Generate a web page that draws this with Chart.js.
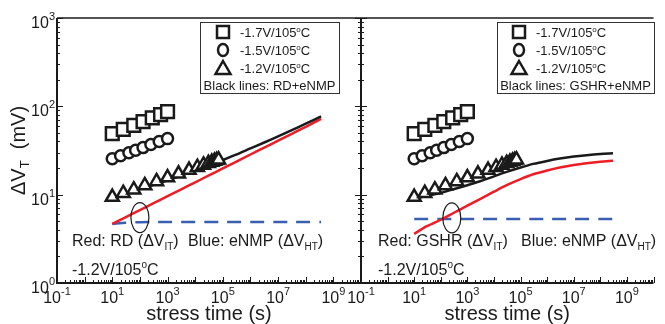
<!DOCTYPE html>
<html>
<head>
<meta charset="utf-8">
<script src="https://cdn.jsdelivr.net/npm/chart.js@4.4.1/dist/chart.umd.min.js"></script>
<style>
html, body { margin: 0; padding: 0; background: #fff; }
#wrap { position: relative; width: 665px; height: 324px; }
#wrap canvas { position: absolute; left: 0; top: 0; }
</style>
</head>
<body>
<div id="wrap">
  <canvas id="left" width="665" height="324"></canvas>
  <canvas id="right" width="665" height="324"></canvas>
</div>
<script>
// measured data (same for both panels)
const sqTime = [10, 25, 60, 130, 280, 560, 1000];          // -1.7V/105C
const sqVal = [49, 54.8, 61, 67, 74, 80.5, 87];
const ciTime = [10, 20, 40, 70, 130, 250, 500, 1000];      // -1.5V/105C
const ciVal = [25.5, 27.6, 29.9, 31.8, 34.1, 36.9, 40, 43.1];
const trTime = [10, 25, 60, 150, 400, 1000, 2500, 6000, 12000, 20000, 30000, 40000, 50000, 60000, 70000]; // -1.2V/105C
const trVal = [9.4, 10.4, 11.4, 12.7, 14.1, 15.6, 17.2, 19.0, 20.5, 21.7, 22.7, 23.4, 24.0, 24.5, 24.9];

// left panel: RD + eNMP model
const rdTime = [10, 30, 100, 300, 1e3, 3e3, 1e4, 3e4, 1e5, 3e5, 1e6, 3e6, 1e7, 3e7, 1e8, 3.6e8];
const rdRed = [4.66, 5.54, 6.69, 7.95, 9.61, 11.4, 13.8, 16.4, 19.8, 23.5, 28.5, 33.8, 40.9, 48.5, 58.7, 72.0];
const rdBlue = [4.66, 4.8, 4.88, 4.9, 4.9, 4.9, 4.9, 4.9, 4.9, 4.9, 4.9, 4.9, 4.9, 4.9, 4.9, 4.9];
const rdBlack = [9.32, 10.34, 11.57, 12.85, 14.51, 16.3, 18.7, 21.3, 24.7, 28.4, 33.4, 38.7, 45.8, 53.4, 63.6, 76.9];

// right panel: GSHR + eNMP model
const gsTime = [10, 30, 100, 300, 1e3, 3e3, 1e4, 3e4, 1e5, 3e5, 1e6, 3e6, 1e7, 3e7, 1e8, 3e8];
const gsRed = [3.6, 4.4, 5.2, 6.2, 7.5, 8.9, 10.8, 12.8, 15.0, 17.0, 18.8, 20.3, 21.7, 22.7, 23.6, 24.2];
const gsBlue = [5.3, 5.3, 5.3, 5.3, 5.3, 5.3, 5.3, 5.3, 5.3, 5.3, 5.3, 5.3, 5.3, 5.3, 5.3, 5.3];
const gsBlack = [8.9, 9.7, 10.5, 11.5, 12.8, 14.2, 16.1, 18.1, 20.3, 22.3, 24.1, 25.6, 27.0, 28.0, 28.9, 29.5];

// axis ticks
const xLabelExp = [-1, 1, 3, 5, 7, 9];
const yLabelExp = [0, 1, 2, 3];
const legendNames = ['-1.7V/105', '-1.5V/105', '-1.2V/105'];

const FONT = '"Liberation Sans", Arial, sans-serif';
const INK = '#1a1a1a';

function pts(xs, ys) {
  return xs.map((x, i) => ({ x: x, y: ys[i] }));
}

function rich(ctx, x, y, parts, align) {
  let w = 0;
  parts.forEach(p => { ctx.font = p[1] + 'px ' + FONT; w += ctx.measureText(p[0]).width; });
  let cx = x;
  if (align === 'center') cx = x - w / 2;
  if (align === 'right') cx = x - w;
  ctx.textAlign = 'left';
  ctx.textBaseline = 'alphabetic';
  parts.forEach(p => {
    ctx.font = p[1] + 'px ' + FONT;
    ctx.fillText(p[0], cx, y + (p[2] || 0));
    cx += ctx.measureText(p[0]).width;
  });
}

function marker(ctx, style, x, y) {
  ctx.beginPath();
  if (style === 'rect') {
    ctx.rect(x - 6, y - 6, 12, 12);
  } else if (style === 'circle') {
    ctx.ellipse(x, y, 5, 6, 0, 0, Math.PI * 2);
  } else {
    ctx.moveTo(x, y - 7);
    ctx.lineTo(x + 7.5, y + 6);
    ctx.lineTo(x - 7.5, y + 6);
    ctx.closePath();
  }
  ctx.stroke();
}

const framePlugin = {
  id: 'frame',
  afterDatasetsDraw(chart, args, o) {
    const { ctx, chartArea: a, scales: { x, y } } = chart;
    ctx.save();
    ctx.strokeStyle = INK;
    ctx.lineCap = 'butt';

    // border lines
    ctx.lineWidth = 1.5;
    ctx.beginPath();
    ctx.moveTo(a.left, a.top); ctx.lineTo(a.right, a.top);
    ctx.stroke();
    ctx.lineWidth = 2;
    ctx.beginPath();
    ctx.moveTo(a.left, a.top); ctx.lineTo(a.left, a.bottom); ctx.lineTo(a.right, a.bottom);
    ctx.stroke();

    // ticks
    ctx.lineWidth = 1;
    ctx.beginPath();
    for (let e = -1; e <= 10; e++) {
      for (let k = 1; k <= 9; k++) {
        const v = k * Math.pow(10, e);
        if (v > 1e10 * 1.0001) break;
        const px = Math.round(x.getPixelForValue(v)) + 0.5;
        const len = k === 1 ? 6 : 3;
        ctx.moveTo(px, a.bottom); ctx.lineTo(px, a.bottom - len);
      }
    }
    for (let e = 0; e <= 3; e++) {
      for (let k = 1; k <= 9; k++) {
        const v = k * Math.pow(10, e);
        if (v > 1000.01) break;
        const py = Math.round(y.getPixelForValue(v)) + 0.5;
        const len = k === 1 ? 6 : 3;
        ctx.moveTo(a.left, py); ctx.lineTo(a.left + len, py);
        if (o.bothSides) { ctx.moveTo(a.left, py); ctx.lineTo(a.left - len, py); }
      }
    }
    ctx.stroke();

    // ellipse marking the crossing
    ctx.lineWidth = 1.2;
    ctx.beginPath();
    ctx.ellipse(x.getPixelForValue(o.ring[0]), y.getPixelForValue(o.ring[1]), 9, 15, 0, 0, Math.PI * 2);
    ctx.stroke();
    ctx.restore();
  },
  afterDraw(chart, args, o) {
    const { ctx, chartArea: a, scales: { x, y } } = chart;
    ctx.save();
    ctx.fillStyle = INK;

    // x tick labels
    xLabelExp.forEach(e => {
      rich(ctx, x.getPixelForValue(Math.pow(10, e)), 303, [['10', 16], [String(e), 11, -8]], 'center');
    });
    // y tick labels
    if (o.yLabels) {
      yLabelExp.forEach(e => {
        rich(ctx, a.left - 2, y.getPixelForValue(Math.pow(10, e)) + 10, [['10', 16], [String(e), 11, -8]], 'right');
      });
      ctx.save();
      ctx.translate(18, (a.top + a.bottom) / 2);
      ctx.rotate(-Math.PI / 2);
      rich(ctx, 0, 7, [['ΔV', 20], ['T', 13, 4], ['  (mV)', 20]], 'center');
      ctx.restore();
    }
    // x title
    rich(ctx, (a.left + a.right) / 2, 320, [['stress time (s)', 20]], 'center');

    // annotations
    rich(ctx, o.redX, 246, [['Red: ' + o.model + ' (ΔV', 16], ['IT', 10, 4], [')', 16]], 'left');
    rich(ctx, o.blueX, 246, [['Blue: eNMP (ΔV', 16], ['HT', 10, 4], [')', 16]], 'left');
    rich(ctx, o.redX, 275, [['-1.2V/105', 16], ['o', 10, -7], ['C', 16]], 'left');

    // legend box
    const b = o.box;
    ctx.strokeStyle = '#333';
    ctx.lineWidth = 1;
    ctx.strokeRect(b[0] + 0.5, b[1] + 0.5, b[2], b[3]);
    ctx.strokeStyle = INK;
    ctx.lineWidth = 2.5;
    ['rect', 'circle', 'triangle'].forEach((s, i) => {
      marker(ctx, s, o.symX, 32 + i * 18);
      rich(ctx, o.symX + 17, 37 + i * 18, [[legendNames[i], 13], ['o', 8, -5], ['C', 13]], 'left');
    });
    rich(ctx, b[0] + b[2] / 2, 90, [['Black lines: ' + o.model + '+eNMP', 13]], 'center');
    ctx.restore();
  }
};

function makeChart(id, t, red, blue, black, pad, frameOpts) {
  const lineDs = (data, color, dash) => ({
    data: data, showLine: true, borderColor: color, borderWidth: 2.5, pointRadius: 0,
    borderDash: dash || [], tension: 0.3, fill: false
  });
  const markDs = (xs, ys, style, r) => ({
    data: pts(xs, ys), showLine: false, pointStyle: style, pointRadius: r,
    pointBorderColor: INK, pointBackgroundColor: '#fff', pointBorderWidth: 2.5
  });
  return new Chart(document.getElementById(id), {
    type: 'scatter',
    data: {
      datasets: [
        markDs(sqTime, sqVal, 'rect', 9),
        markDs(ciTime, ciVal, 'circle', 5.5),
        markDs(trTime, trVal, 'triangle', 7.5),
        lineDs(pts(t, black), '#1a1a1a'),
        lineDs(pts(t, red), '#ee1c25'),
        lineDs(pts(t, blue), '#3a5fb0', [14, 9])
      ]
    },
    options: {
      responsive: false,
      animation: false,
      devicePixelRatio: 1,
      layout: { padding: pad },
      scales: {
        x: { type: 'logarithmic', min: 0.1, max: 1e10, display: false },
        y: { type: 'logarithmic', min: 1, max: 1000, display: false }
      },
      plugins: {
        legend: { display: false },
        tooltip: { enabled: false },
        frame: frameOpts
      }
    },
    plugins: [framePlugin]
  });
}

makeChart('left', rdTime, rdRed, rdBlue, rdBlack,
  { left: 57, right: 304, top: 18, bottom: 41 },
  { yLabels: true, bothSides: false, ring: [100, 5.5], model: 'RD', redX: 72, blueX: 188,
    box: [200, 22, 139, 71], symX: 223 });

makeChart('right', gsTime, gsRed, gsBlue, gsBlack,
  { left: 361, right: 0, top: 18, bottom: 41 },
  { yLabels: false, bothSides: true, ring: [260, 5.45], model: 'GSHR', redX: 378, blueX: 521,
    box: [497, 22, 157, 71], symX: 519 });
</script>
</body>
</html>
